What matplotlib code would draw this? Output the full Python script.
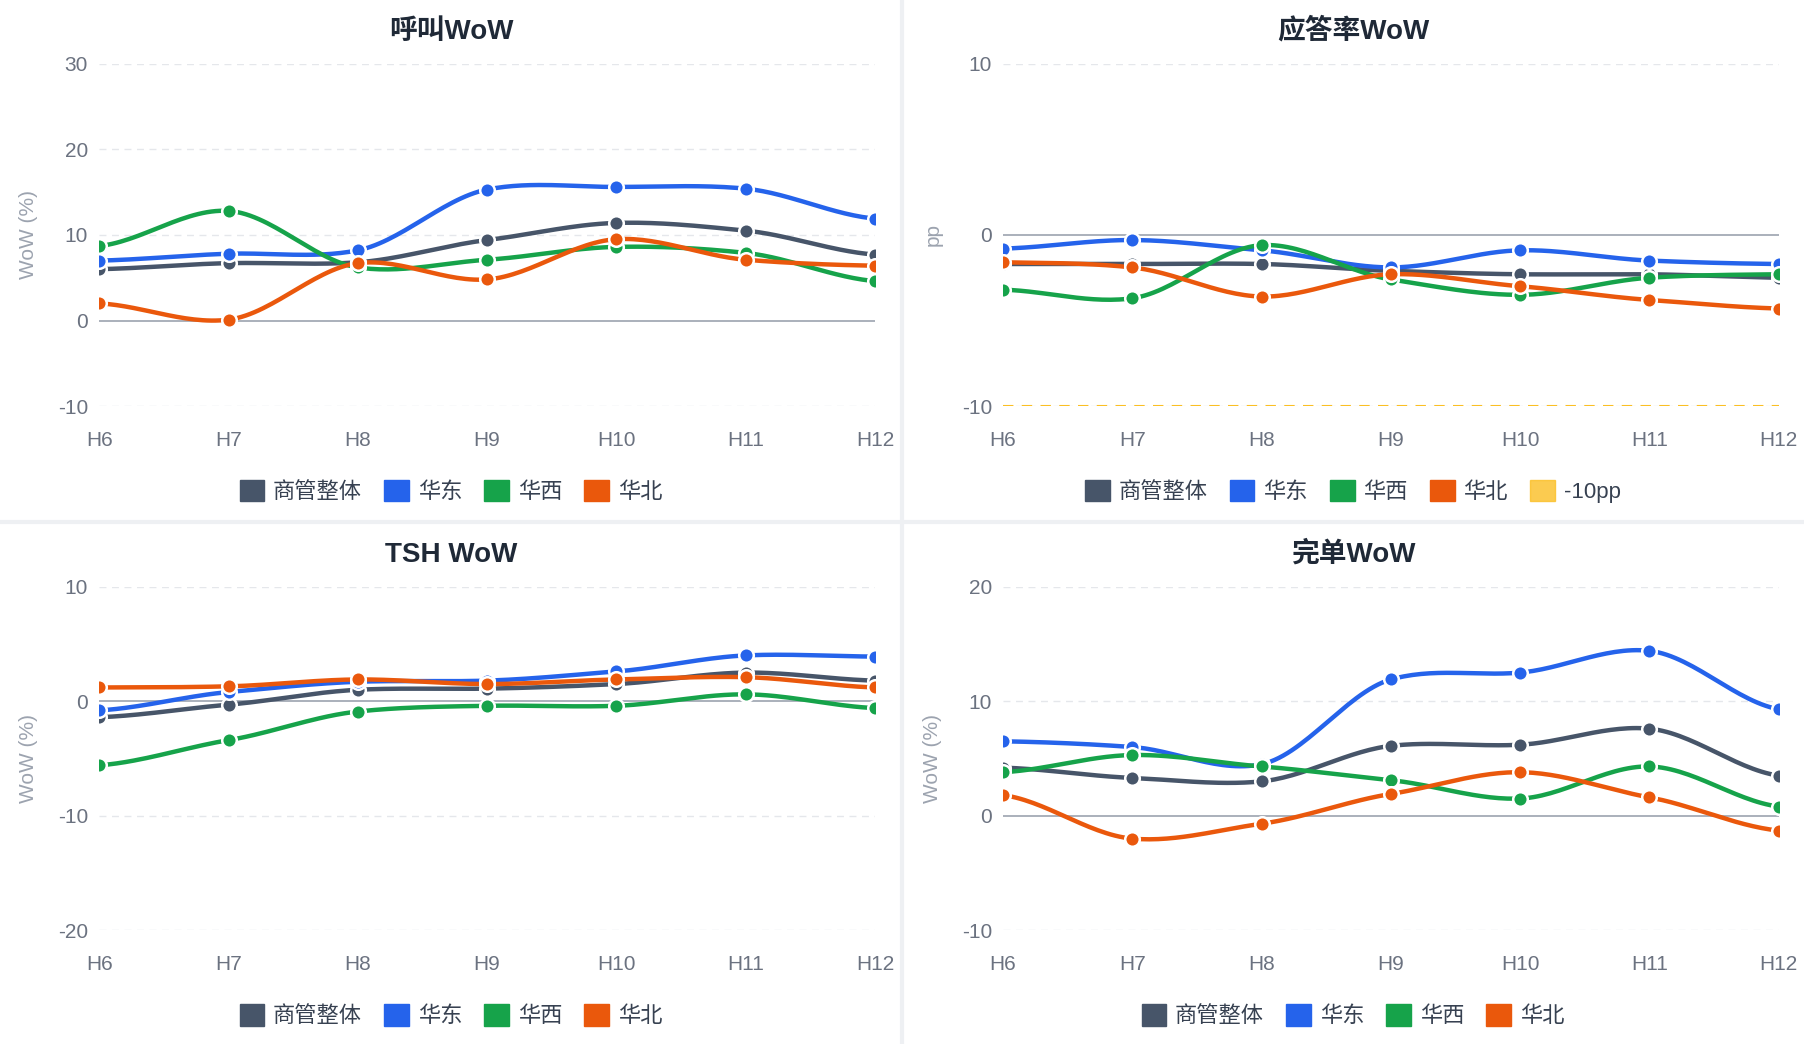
import numpy as np
import matplotlib.pyplot as plt
from matplotlib.lines import Line2D
from matplotlib.patches import Patch

plt.rcParams['font.family'] = ['Liberation Sans', 'Noto Sans CJK SC', 'DejaVu Sans']

hours = ["H6", "H7", "H8", "H9", "H10", "H11", "H12"]
series_names = ["商管整体", "华东", "华西", "华北"]
colors = ["#475569", "#2563eb", "#16a34a", "#ea580c"]

call_wow = [
    [6.0, 6.7, 6.8, 9.4, 11.4, 10.5, 7.7],
    [7.0, 7.8, 8.2, 15.3, 15.6, 15.4, 11.9],
    [8.7, 12.8, 6.2, 7.1, 8.6, 7.9, 4.6],
    [2.0, 0.1, 6.7, 4.8, 9.5, 7.1, 6.4],
]
answer_wow = [
    [-1.7, -1.7, -1.7, -2.1, -2.3, -2.3, -2.5],
    [-0.8, -0.3, -0.9, -1.9, -0.9, -1.5, -1.7],
    [-3.2, -3.7, -0.6, -2.6, -3.5, -2.5, -2.3],
    [-1.6, -1.9, -3.6, -2.3, -3.0, -3.8, -4.3],
]
tsh_wow = [
    [-1.4, -0.3, 1.0, 1.1, 1.5, 2.5, 1.8],
    [-0.8, 0.8, 1.7, 1.8, 2.6, 4.0, 3.9],
    [-5.6, -3.4, -0.9, -0.4, -0.4, 0.6, -0.6],
    [1.2, 1.3, 1.9, 1.5, 1.9, 2.1, 1.2],
]
done_wow = [
    [4.2, 3.3, 3.0, 6.1, 6.2, 7.6, 3.5],
    [6.5, 6.0, 4.5, 11.9, 12.5, 14.4, 9.3],
    [3.8, 5.3, 4.3, 3.1, 1.5, 4.3, 0.8],
    [1.8, -2.0, -0.7, 1.9, 3.8, 1.6, -1.3],
]


def smooth(y, n=30):
    # Catmull-Rom style curve through the points
    y = np.asarray(y, float)
    p = np.concatenate([[y[0]], y, [y[-1]]])
    xs, ys = [], []
    for i in range(len(y) - 1):
        p0, p1, p2, p3 = p[i], p[i + 1], p[i + 2], p[i + 3]
        t = np.linspace(0, 1, n, endpoint=False)
        m1 = (p2 - p0) / 2 * 0.8
        m2 = (p3 - p1) / 2 * 0.8
        h00 = 2 * t**3 - 3 * t**2 + 1
        h10 = t**3 - 2 * t**2 + t
        h01 = -2 * t**3 + 3 * t**2
        h11 = t**3 - t**2
        xs.append(i + t)
        ys.append(h00 * p1 + h10 * m1 + h01 * p2 + h11 * m2)
    xs.append([len(y) - 1])
    ys.append([y[-1]])
    return np.concatenate(xs), np.concatenate(ys)


fig = plt.figure(figsize=(18.04, 10.44), dpi=100)
fig.patch.set_facecolor("white")

panels = [
    ("呼叫WoW", call_wow, (-10, 30), [-10, 0, 10, 20, 30], "WoW (%)", [0.055, 0.611, 0.43, 0.328]),
    ("应答率WoW", answer_wow, (-10, 10), [-10, 0, 10], "pp", [0.556, 0.611, 0.43, 0.328]),
    ("TSH WoW", tsh_wow, (-20, 10), [-20, -10, 0, 10], "WoW (%)", [0.055, 0.109, 0.43, 0.329]),
    ("完单WoW", done_wow, (-10, 20), [-10, 0, 10, 20], "WoW (%)", [0.556, 0.109, 0.43, 0.329]),
]

for idx, (title, data, ylim, ticks, ylabel, pos) in enumerate(panels):
    ax = fig.add_axes(pos)
    for t in ticks:
        if t == 0:
            ax.axhline(0, color="#9ca3af", lw=1.2, zorder=1)
        else:
            ax.axhline(t, color="#e5e7eb", lw=1, ls=(0, (5, 4)), zorder=1)
    for vals, c in zip(data, colors):
        xs, ys = smooth(vals)
        ax.plot(xs, ys, color=c, lw=3.2, zorder=3)
        ax.scatter(range(len(hours)), vals, s=110, color=c, edgecolor="white", linewidth=1.8, zorder=4)
    handles = [Patch(color=c, label=n) for c, n in zip(colors, series_names)]
    if idx == 1:
        ax.axhline(-10, color="#fbbf24", lw=1.5, ls=(0, (5, 4)), zorder=2)
        handles.append(Patch(color="#fbbf24", label="-10pp", alpha=0.8))
    ax.set_xlim(0, len(hours) - 1)
    ax.set_ylim(*ylim)
    ax.set_yticks(ticks)
    ax.set_yticklabels([str(t) for t in ticks])
    ax.set_xticks(range(len(hours)))
    ax.set_xticklabels(hours)
    ax.tick_params(length=0, labelsize=15, colors="#6b7280", pad=18)
    ax.tick_params(axis="y", pad=8)
    for s in ax.spines.values():
        s.set_visible(False)
    ax.set_ylabel(ylabel, fontsize=15, color="#9ca3af", labelpad=14)

    cx = 0.25 if idx % 2 == 0 else 0.75
    top = pos[1] + pos[3]
    fig.text(cx, top + 0.018, title, ha="center", va="bottom", fontsize=20,
             fontweight="bold", color="#1f2937")
    fig.legend(handles=handles, loc="center", bbox_to_anchor=(cx, pos[1] - 0.082),
               ncol=len(handles), frameon=False, fontsize=16, handlelength=1.1,
               handleheight=1.1, columnspacing=1.0, handletextpad=0.4, labelcolor="#374151")

# panel separators
fig.add_artist(Line2D([0.5, 0.5], [0, 1], color="#eef0f3", lw=3))
fig.add_artist(Line2D([0, 1], [0.5, 0.5], color="#eef0f3", lw=3))

plt.savefig("out.png", dpi=100)
plt.close()
